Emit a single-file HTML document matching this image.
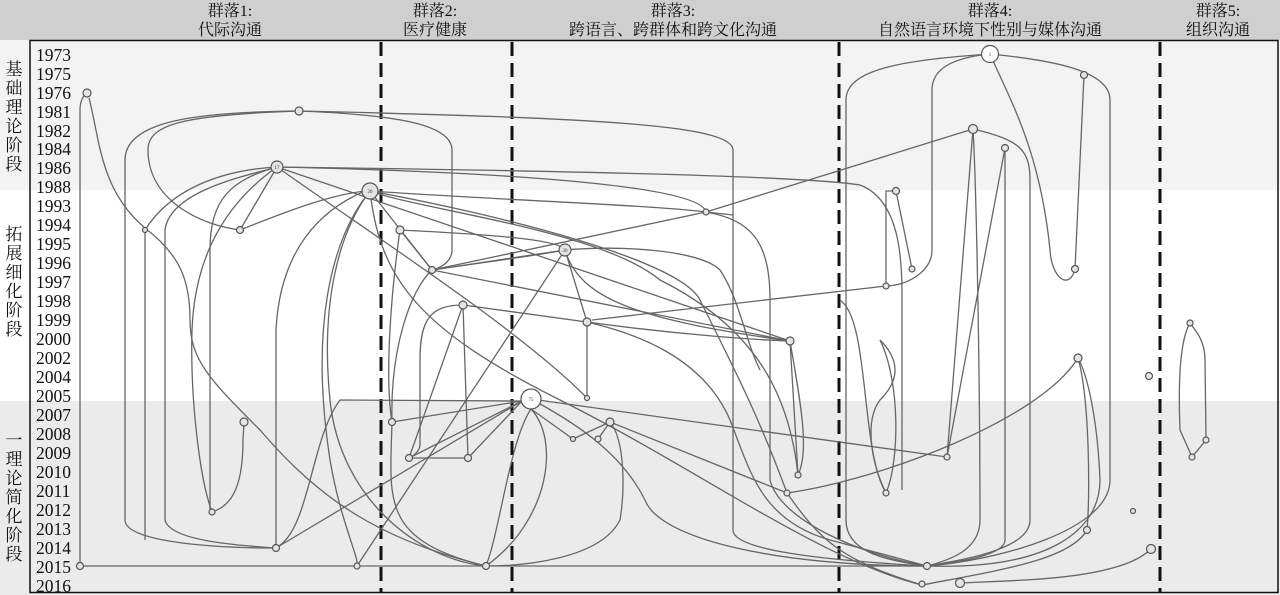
<!DOCTYPE html>
<html><head><meta charset="utf-8"><style>
body{margin:0;width:1280px;height:595px;overflow:hidden;background:#fff}
svg{display:block}
.t{font-family:"Liberation Serif","Noto Serif CJK SC",serif;fill:#111}
.e{fill:none;stroke:#666;stroke-width:1.3}
.n{fill:#e4e4e4;stroke:#555;stroke-width:1.2}
</style></head><body>
<svg width="1280" height="595" viewBox="0 0 1280 595" xmlns="http://www.w3.org/2000/svg">
<rect x="0" y="0" width="1280" height="40" fill="#cfcfcf"/>
<rect x="0" y="40" width="1280" height="150" fill="#f3f3f3"/>
<rect x="0" y="190" width="1280" height="211" fill="#fff"/>
<rect x="0" y="401" width="1280" height="194" fill="#ebebeb"/>
<rect x="30" y="40.5" width="1248" height="552" fill="none" stroke="#111" stroke-width="1.5"/>
<g class="t" font-size="16" text-anchor="middle">
<text x="230" y="16">群落1:</text><text x="230" y="35">代际沟通</text>
<text x="435" y="16">群落2:</text><text x="435" y="35">医疗健康</text>
<text x="673" y="16">群落3:</text><text x="673" y="35">跨语言、跨群体和跨文化沟通</text>
<text x="990" y="16">群落4:</text><text x="990" y="35">自然语言环境下性别与媒体沟通</text>
<text x="1218" y="16">群落5:</text><text x="1218" y="35">组织沟通</text>
</g>
<g class="t" font-size="17" text-anchor="middle">
<text x="14" y="75">基</text><text x="14" y="94">础</text><text x="14" y="113">理</text><text x="14" y="132">论</text><text x="14" y="151">阶</text><text x="14" y="170">段</text>
<text x="14" y="240">拓</text><text x="14" y="259">展</text><text x="14" y="278">细</text><text x="14" y="297">化</text><text x="14" y="316">阶</text><text x="14" y="335">段</text>
<text x="14" y="446">一</text><text x="14" y="465">理</text><text x="14" y="484">论</text><text x="14" y="503">简</text><text x="14" y="522">化</text><text x="14" y="541">阶</text><text x="14" y="560">段</text>
</g>
<g class="t" font-size="17.5">
<text x="36" y="61">1973</text><text x="36" y="80">1975</text><text x="36" y="99">1976</text><text x="36" y="118">1981</text><text x="36" y="137">1982</text><text x="36" y="155">1984</text><text x="36" y="174">1986</text><text x="36" y="193">1988</text><text x="36" y="212">1993</text><text x="36" y="231">1994</text><text x="36" y="250">1995</text><text x="36" y="269">1996</text><text x="36" y="288">1997</text><text x="36" y="307">1998</text><text x="36" y="326">1999</text><text x="36" y="345">2000</text><text x="36" y="364">2002</text><text x="36" y="383">2004</text><text x="36" y="402">2005</text><text x="36" y="421">2007</text><text x="36" y="440">2008</text><text x="36" y="459">2009</text><text x="36" y="478">2010</text><text x="36" y="497">2011</text><text x="36" y="516">2012</text><text x="36" y="535">2013</text><text x="36" y="554">2014</text><text x="36" y="573">2015</text><text x="36" y="592">2016</text>
</g>
<g stroke="#111" stroke-width="3" stroke-dasharray="14 7">
<line x1="381" y1="42" x2="381" y2="593"/><line x1="512" y1="42" x2="512" y2="593"/><line x1="839" y1="42" x2="839" y2="593"/><line x1="1160" y1="42" x2="1160" y2="593"/>
</g>
<g class="e">
<path d="M80,566 L927,566"/>
<path d="M80,566 L80,110 C80,100 84,95 87,93"/>
<path d="M89,98 C100,140 100,190 145,228 C180,255 190,280 190,320 C190,360 210,380 260,430 C320,500 380,540 486,566"/>
<path d="M299,111 C200,112 125,120 125,160 L125,520 C125,540 200,548 276,548"/>
<path d="M299,111 C180,115 148,125 148,150 C148,200 200,225 240,230"/>
<path d="M299,111 C400,115 452,125 452,150 L452,250 C452,262 440,268 432,270"/>
<path d="M299,111 C600,118 733,125 733,150 L733,530 C733,550 820,560 927,566"/>
<path d="M240,230 L277,167 M240,230 C290,210 330,195 365,191"/>
<path d="M145,230 L145,540 M145,230 C170,190 220,170 277,167"/>
<path d="M277,167 C250,175 170,190 165,230 L165,520 C170,540 230,545 276,548"/>
<path d="M277,167 C230,180 210,200 210,250 L210,512"/>
<path d="M212,512 C200,480 190,400 192,330 C195,250 230,200 277,167"/>
<path d="M212,512 C235,505 243,480 243,440 L244,422"/>
<path d="M276,548 L276,330 C280,250 320,210 365,191"/>
<path d="M276,548 C310,530 310,440 340,400 L522,401"/>
<path d="M276,548 L522,401"/>
<path d="M277,167 C500,170 800,175 860,185 C900,200 902,260 902,295 L902,490"/>
<path d="M277,167 C500,172 700,185 706,212"/>
<path d="M277,167 C380,240 520,330 587,398"/>
<path d="M277,167 L790,341"/>
<path d="M370,191 C500,200 650,205 706,212 L733,215"/>
<path d="M370,191 C420,210 600,230 660,280 C760,330 790,400 798,475"/>
<path d="M370,191 C500,215 680,260 700,300 C740,380 760,420 787,493"/>
<path d="M370,191 C340,230 320,300 330,400 C340,500 420,560 486,566"/>
<path d="M370,191 C330,240 310,330 330,460 C340,520 360,560 357,566"/>
<path d="M370,191 C380,280 420,330 560,400 C700,470 820,560 922,585"/>
<path d="M370,191 L432,270"/>
<path d="M400,230 L432,270 M400,230 C500,235 560,240 565,250"/>
<path d="M400,230 C390,300 385,380 392,422"/>
<path d="M432,270 L565,250 M432,270 C500,260 540,255 565,250"/>
<path d="M432,270 L790,341 M432,270 L706,212"/>
<path d="M432,270 C410,290 390,350 392,422"/>
<path d="M463,305 L468,458 M463,305 L409,458"/>
<path d="M463,305 C430,305 420,320 420,360 L420,445 C420,450 414,456 409,458"/>
<path d="M565,250 L587,322 L587,398 M565,250 L357,566 M565,250 C580,300 640,320 790,341"/>
<path d="M587,322 C680,335 760,340 790,341 M587,322 L463,305"/>
<path d="M587,322 C620,330 700,350 730,420 C750,470 760,520 830,540 L927,566"/>
<path d="M790,341 L798,475 M790,341 C800,400 810,450 798,475"/>
<path d="M706,212 L973,129 M706,212 C750,220 770,240 770,300 L770,480 C780,520 860,555 927,566"/>
<path d="M409,458 L468,458 M409,458 L522,401 M468,458 L522,401"/>
<path d="M392,422 L522,401 M392,422 C390,500 380,540 486,566"/>
<path d="M531,409 C560,440 550,520 486,566"/>
<path d="M531,409 C510,440 500,530 486,566 M531,409 L573,439 M573,439 L610,422 M598,439 L610,422"/>
<path d="M531,399 L947,457 M531,399 C570,420 620,450 645,500 C660,540 780,566 927,566"/>
<path d="M610,422 L787,493 M610,422 C625,440 625,490 620,520 C600,560 520,566 486,566"/>
<path d="M787,493 C880,480 1040,420 1078,358 C1090,380 1098,430 1100,480 C1100,530 1050,570 927,566"/>
<path d="M787,493 C820,540 840,560 922,585"/>
<path d="M886,493 C870,460 865,420 880,400 C900,380 900,360 880,340"/>
<path d="M886,493 C900,460 900,380 880,340 M840,300 C870,320 860,450 886,493"/>
<path d="M947,457 L973,129 M947,457 L1005,148"/>
<path d="M990,54 C900,60 846,70 846,100 L846,520 C846,550 880,560 927,566"/>
<path d="M990,54 C950,58 932,70 932,90 L932,250 C932,270 910,285 886,286 L886,191 L896,191 L912,269"/>
<path d="M886,286 L592,320"/>
<path d="M990,54 C1010,100 1040,150 1050,250 C1052,280 1070,290 1075,269 L1084,75"/>
<path d="M990,54 C1050,60 1110,70 1110,100 L1110,480 C1110,530 1000,560 927,566"/>
<path d="M973,129 C977,200 980,400 980,520 C980,550 950,560 927,566"/>
<path d="M973,129 C1020,140 1030,150 1030,180 L1030,520 C1030,550 960,560 927,566"/>
<path d="M1005,148 L1005,540 C1005,555 960,562 927,566"/>
<path d="M1078,358 C1090,400 1090,500 1087,530 C1070,560 1000,570 922,585"/>
<path d="M1151,549 C1120,580 1020,580 960,583"/>
<path d="M1190,323 C1180,340 1178,380 1180,430 L1192,457 L1206,440 L1205,360 C1205,340 1195,330 1190,323"/>
<path d="M565,250 C620,245 700,250 720,270 C740,300 745,340 760,370"/>
</g>
<g class="n">
<circle cx="87" cy="93" r="4"/><circle cx="299" cy="111" r="4"/><circle cx="277" cy="167" r="6"/><circle cx="370" cy="191" r="8"/>
<circle cx="240" cy="230" r="3.5"/><circle cx="145" cy="230" r="2.5"/><circle cx="400" cy="230" r="4"/><circle cx="432" cy="270" r="3.5"/>
<circle cx="565" cy="250" r="6"/><circle cx="463" cy="305" r="4"/><circle cx="587" cy="322" r="4"/><circle cx="790" cy="341" r="4"/>
<circle cx="531" cy="399" r="10" fill="#fff"/><circle cx="244" cy="422" r="4"/><circle cx="212" cy="512" r="3"/><circle cx="276" cy="548" r="3.5"/>
<circle cx="80" cy="566" r="3.5"/><circle cx="357" cy="566" r="3"/><circle cx="486" cy="566" r="3.5"/><circle cx="392" cy="422" r="3.5"/>
<circle cx="409" cy="458" r="3.5"/><circle cx="468" cy="458" r="3.5"/><circle cx="573" cy="439" r="2.5"/><circle cx="598" cy="439" r="3"/>
<circle cx="610" cy="422" r="4"/><circle cx="587" cy="398" r="2.5"/><circle cx="706" cy="212" r="3"/><circle cx="798" cy="475" r="3"/>
<circle cx="787" cy="493" r="3"/><circle cx="886" cy="493" r="3"/><circle cx="947" cy="457" r="3"/><circle cx="927" cy="566" r="3.5"/>
<circle cx="960" cy="583" r="4.5"/><circle cx="922" cy="584" r="3"/><circle cx="990" cy="54" r="8.5" fill="#fff"/><circle cx="1084" cy="75" r="3.5"/>
<circle cx="973" cy="129" r="4.5"/><circle cx="1005" cy="148" r="3.5"/><circle cx="896" cy="191" r="3.5"/><circle cx="912" cy="269" r="3"/>
<circle cx="886" cy="286" r="3"/><circle cx="1075" cy="269" r="3.5"/><circle cx="1078" cy="358" r="4"/><circle cx="1149" cy="376" r="3.5"/>
<circle cx="1190" cy="323" r="3"/><circle cx="1206" cy="440" r="3"/><circle cx="1192" cy="457" r="3"/><circle cx="1133" cy="511" r="2.5"/>
<circle cx="1087" cy="530" r="3.5"/><circle cx="1151" cy="549" r="4.5"/>
</g>
<g font-family="Liberation Serif,serif" font-size="5" text-anchor="middle" fill="#333">
<text x="370" y="193">20</text><text x="531" y="401">75</text><text x="990" y="56">1</text><text x="565" y="252">30</text><text x="277" y="169">17</text>
</g>
</svg>
</body></html>
